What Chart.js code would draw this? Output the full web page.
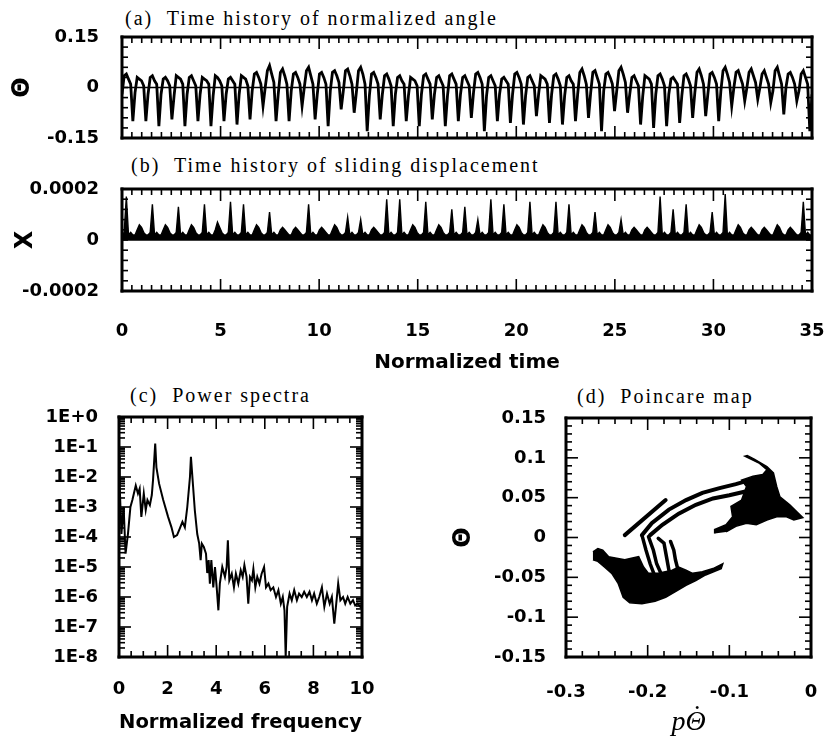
<!DOCTYPE html>
<html><head><meta charset="utf-8">
<script src="https://cdn.jsdelivr.net/npm/chart.js@4.4.1/dist/chart.umd.min.js"></script>
<style>
html,body{margin:0;padding:0;background:#fff;}
#wrap{position:relative;width:828px;height:743px;background:#fff;}
canvas{position:absolute;}
.ptitle{position:absolute;font-family:"Liberation Serif","Times New Roman",serif;font-size:20px;line-height:20px;letter-spacing:2px;white-space:pre;color:#000;}
</style></head><body>
<div id="wrap">
<div class="ptitle" style="left:125px;top:8px">(a)  Time history of normalized angle</div>
<div class="ptitle" style="left:131px;top:155px">(b)  Time history of sliding displacement</div>
<div class="ptitle" style="left:130px;top:385px">(c)  Power spectra</div>
<div class="ptitle" style="left:577px;top:386px">(d)  Poincare map</div>
<canvas id="cA" width="828" height="131" style="left:0;top:22px;width:828px;height:131px"></canvas>
<canvas id="cB" width="828" height="207" style="left:0;top:174px;width:828px;height:207px"></canvas>
<canvas id="cC" width="377" height="335" style="left:0;top:402px;width:377px;height:335px"></canvas>
<canvas id="cD" width="408" height="336" style="left:420px;top:403px;width:408px;height:336px"></canvas>
</div>
<script>
// ---------- DATA ----------
const T_END = 35;
const T_SAMPLES = 318;            // uniform sampling of the time histories
const timeTicks = [0, 5, 10, 15, 20, 25, 30, 35];
const thetaTicks = [-0.15, 0, 0.15];
const slideTicks = [-0.0002, 0, 0.0002];

// (a) normalized angle, one row per oscillation cycle
const theta = [
-0.02,0.035,0.04,0.025,0.01,-0.10,
-0.015,0.03,0.025,0.02,0.005,-0.10,
-0.02,0.03,0.035,0.02,0.01,-0.115,
-0.02,0.025,0.03,0.02,0.005,-0.095,
-0.025,0.035,0.03,0.025,0.01,-0.115,
-0.02,0.03,0.035,0.02,0.005,-0.10,
-0.02,0.03,0.025,0.02,0.01,-0.115,
-0.025,0.035,0.03,0.02,0.005,-0.10,
-0.02,0.025,0.03,0.02,0.01,-0.11,
-0.02,0.035,0.03,0.025,0.005,-0.095,
-0.01,0.04,0.045,0.03,0.01,-0.055,
0.0,0.05,0.065,0.04,0.015,-0.10,
-0.02,0.045,0.055,0.035,0.01,-0.10,
-0.01,0.04,0.045,0.03,0.01,-0.055,
0.0,0.05,0.06,0.035,0.01,-0.095,
-0.02,0.04,0.045,0.03,0.01,-0.115,
-0.01,0.045,0.05,0.035,0.015,-0.065,
-0.01,0.05,0.055,0.035,0.01,-0.075,
-0.015,0.05,0.06,0.04,0.01,-0.13,
-0.025,0.04,0.045,0.03,0.01,-0.095,
-0.02,0.035,0.04,0.025,0.005,-0.115,
-0.02,0.03,0.035,0.02,0.01,-0.10,
-0.025,0.03,0.025,0.02,0.005,-0.115,
-0.02,0.035,0.04,0.025,0.01,-0.095,
-0.02,0.03,0.035,0.02,0.005,-0.115,
-0.025,0.035,0.04,0.025,0.01,-0.10,
-0.02,0.03,0.035,0.02,0.005,-0.09,
-0.015,0.04,0.045,0.03,0.01,-0.13,
-0.025,0.03,0.035,0.02,0.005,-0.10,
-0.02,0.025,0.03,0.02,0.01,-0.105,
-0.02,0.04,0.045,0.03,0.01,-0.11,
-0.025,0.03,0.035,0.02,0.005,-0.085,
-0.02,0.035,0.03,0.025,0.01,-0.105,
-0.02,0.035,0.04,0.025,0.005,-0.11,
-0.025,0.03,0.035,0.02,0.01,-0.10,
-0.02,0.045,0.055,0.035,0.01,-0.09,
-0.015,0.045,0.05,0.03,0.01,-0.13,
-0.01,0.04,0.045,0.03,0.01,-0.07,
-0.01,0.05,0.06,0.04,0.015,-0.075,
-0.02,0.03,0.035,0.02,0.005,-0.11,
-0.025,0.035,0.03,0.025,0.01,-0.12,
-0.02,0.035,0.04,0.025,0.005,-0.115,
-0.02,0.025,0.03,0.02,0.01,-0.105,
-0.025,0.035,0.04,0.025,0.005,-0.09,
-0.015,0.045,0.055,0.035,0.01,-0.085,
-0.02,0.04,0.045,0.03,0.01,-0.10,
-0.01,0.05,0.06,0.04,0.015,-0.055,
0.0,0.045,0.05,0.03,0.01,-0.04,
0.0,0.045,0.055,0.035,0.015,-0.035,
0.0,0.04,0.05,0.03,0.01,-0.045,
-0.01,0.05,0.06,0.035,0.01,-0.08,
0.0,0.04,0.045,0.03,0.01,-0.04,
-0.01,0.04,0.05,0.03,0.01,-0.13,
-0.02
];

// (b) sliding displacement in units of 1e-5, one row per cycle
const slide = [
2,3,17,2,3,2,
2,4,6,5,3,2,
2,3,14,2,3,2,
2,4,6,5,3,2,
2,3,13,2,3,2,
2,4,6,5,3,2,
2,3,14,2,3,2,
2,4,7,5,3,2,
2,3,15,2,3,2,
2,3,14,2,3,2,
2,4,6,5,3,2,
2,3,11,2,3,2,
2,4,5,4,3,2,
2,4,5,4,3,2,
2,3,14,2,3,2,
2,4,5,4,3,2,
2,4,6,5,3,2,
2,3,9,2,3,2,
2,3,8,2,3,2,
2,4,5,4,3,2,
2,3,16,2,3,2,
2,3,16,2,3,2,
2,4,6,5,3,2,
2,3,15,2,3,2,
2,4,6,5,3,2,
2,3,12,2,3,2,
2,3,13,2,3,2,
2,3,8,2,3,2,
2,3,16,2,3,2,
2,3,14,2,3,2,
2,4,6,5,3,2,
2,3,15,2,3,2,
2,4,6,5,3,2,
2,3,15,2,3,2,
2,3,14,2,3,2,
2,4,6,5,3,2,
2,3,11,2,3,2,
2,4,6,5,3,2,
2,3,8,2,3,2,
2,4,5,4,3,2,
2,4,5,4,3,2,
2,3,17,2,3,2,
2,3,12,2,3,2,
2,3,14,2,3,2,
2,4,6,5,3,2,
2,3,11,2,3,2,
2,3,18,2,3,2,
2,4,6,5,3,2,
2,4,5,4,3,2,
2,4,5,4,3,2,
2,4,6,5,3,2,
2,4,5,4,3,2,
2,3,15,2,3,2,
2
];
const SLIDE_UNIT = 1e-5;

// (c) power spectrum
const freqTicks = [0, 2, 4, 6, 8, 10];
const freq = [0.01,0.03,0.1,0.19,0.27,0.37,0.47,0.55,0.69,0.78,0.85,0.92,1.02,1.1,1.17,1.27,1.35,1.4,1.49,1.54,
1.65,1.82,2.02,2.16,2.26,2.39,2.5,2.61,2.71,2.81,2.92,2.96,3.03,3.12,3.22,3.3,3.36,3.41,3.49,3.58,
3.63,3.69,3.74,3.8,3.88,3.95,4.02,4.09,4.15,4.25,4.36,4.43,4.48,4.54,4.64,4.73,4.81,4.91,5.01,5.09,
5.16,5.25,5.32,5.39,5.47,5.53,5.61,5.69,5.78,5.87,5.97,6.05,6.15,6.24,6.35,6.46,6.56,6.66,6.74,6.81,
6.86,6.92,7.02,7.11,7.21,7.32,7.41,7.52,7.62,7.73,7.84,7.94,8.03,8.14,8.24,8.35,8.45,8.56,8.67,8.76,
8.86,8.94,9.02,9.11,9.22,9.31,9.41,9.52,9.63,9.72,9.82,9.93,10.0];
const power = [5e-2,4.7e-3,1.26e-4,1e-3,2.8e-5,1.3e-4,1e-3,1.7e-3,5.2e-3,2.8e-3,4.1e-3,4.7e-4,2.8e-3,7.9e-4,1.7e-3,1.15e-3,2.5e-3,7.9e-3,1.3e-1,2.1e-2,
6.0e-3,1.7e-3,4.7e-4,2.1e-4,1e-4,1.15e-4,1.9e-4,3.2e-4,2.1e-4,1e-3,1e-2,4.7e-2,7.8e-3,7.8e-4,1.26e-4,6.0e-5,1.7e-5,6.0e-5,4.7e-5,2.8e-5,
6.3e-6,1.7e-5,2.8e-6,1.7e-5,2.1e-6,1e-5,2.1e-6,3.6e-7,2.8e-6,1e-5,4.7e-6,1e-5,7.8e-5,3.6e-6,6.0e-6,2.1e-6,6.0e-6,2.8e-6,7.8e-6,4.7e-6,
1.15e-5,4.7e-6,6.0e-7,4.7e-6,3.6e-6,8.7e-6,2.1e-6,4.7e-6,2.8e-6,6.0e-6,1e-5,2.1e-6,2.8e-6,1.7e-6,2.1e-6,1e-6,1.7e-6,6.0e-7,1e-6,3.6e-7,
1e-8,4.7e-7,1.3e-6,7.8e-7,1.7e-6,7.8e-7,1.3e-6,1e-6,1.5e-6,1e-6,1.5e-6,7.8e-7,1.3e-6,6.0e-7,1e-6,2.1e-6,4.7e-7,1.3e-6,6.0e-7,1e-6,
1.3e-7,6.0e-7,2.8e-6,7.8e-7,1e-6,6.0e-7,1e-6,6.0e-7,7.8e-7,5.2e-7,6.0e-7,4.7e-7,6.0e-7];
const powerTicks = [1e-8,1e-7,1e-6,1e-5,1e-4,1e-3,1e-2,1e-1,1];

// (d) Poincare map: [p-theta-dot, theta] outlines of the point clouds and strands
const pmUpperCloud = [[-0.118,0.005],[-0.118,0.010],[-0.104,0.016],[-0.096,0.026],[-0.098,0.039],[-0.085,0.047],
[-0.079,0.064],[-0.085,0.072],[-0.071,0.077],[-0.059,0.079],[-0.054,0.085],[-0.063,0.093],[-0.081,0.102],
[-0.078,0.103],[-0.069,0.098],[-0.054,0.089],[-0.046,0.081],[-0.042,0.064],[-0.038,0.051],[-0.026,0.041],
[-0.017,0.032],[-0.010,0.025],[-0.021,0.022],[-0.030,0.026],[-0.042,0.026],[-0.054,0.022],[-0.067,0.016],
[-0.079,0.018],[-0.092,0.014],[-0.104,0.007]];
const pmLowerCloud = [[-0.267,-0.018],[-0.261,-0.014],[-0.255,-0.016],[-0.248,-0.024],[-0.238,-0.026],[-0.228,-0.028],
[-0.220,-0.026],[-0.211,-0.024],[-0.205,-0.037],[-0.199,-0.045],[-0.187,-0.045],[-0.170,-0.041],[-0.162,-0.037],
[-0.153,-0.041],[-0.145,-0.045],[-0.133,-0.043],[-0.120,-0.039],[-0.108,-0.033],[-0.110,-0.039],[-0.129,-0.047],
[-0.141,-0.054],[-0.153,-0.060],[-0.166,-0.068],[-0.178,-0.075],[-0.191,-0.080],[-0.207,-0.083],[-0.222,-0.082],
[-0.230,-0.075],[-0.236,-0.058],[-0.244,-0.045],[-0.253,-0.037],[-0.261,-0.030],[-0.267,-0.028]];
const pmOuterArc = [[-0.207,0.003],[-0.195,0.018],[-0.174,0.035],[-0.153,0.047],[-0.133,0.056],[-0.112,0.062],[-0.092,0.067],[-0.075,0.072],[-0.059,0.074]];
const pmInnerArc = [[-0.197,0.003],[-0.182,0.016],[-0.162,0.030],[-0.141,0.041],[-0.120,0.049],[-0.100,0.053],[-0.079,0.058],[-0.063,0.062]];
const pmDiagonal = [[-0.228,0.003],[-0.178,0.047]];
const pmStrandA = [[-0.207,0.003],[-0.202,-0.016],[-0.197,-0.033],[-0.191,-0.049]];
const pmStrandB = [[-0.199,0.001],[-0.193,-0.016],[-0.189,-0.033],[-0.182,-0.049]];
const pmStrandC = [[-0.187,-0.001],[-0.180,-0.007],[-0.177,-0.024],[-0.174,-0.041]];
const pmStrandD = [[-0.172,-0.005],[-0.168,-0.016],[-0.166,-0.028],[-0.163,-0.040]];

// ---------- HELPERS ----------
const SANS = '"DejaVu Sans", "Liberation Sans", Arial, sans-serif';
const tickFont = {family: SANS, size: 18, weight: 'bold'};
const axisFont = {family: SANS, size: 20, weight: 'bold'};
const symFont = {family: SANS, size: 24, weight: 'bold'};
Chart.defaults.color = '#000';
const T_STEP = T_END / T_SAMPLES;
const toXY = pairs => pairs.map(p => ({x: p[0], y: p[1]}));
const MAJOR_LEN = 12, MINOR_LEN = 6, TICK_W = 1.6, FRAME_W = 3;

// positions of the inward frame tick marks: [value, isMajor]
const linTicks = (start, step, count, majorEvery) => {
  const r = [];
  for (let i = 0; i <= count; i++) r.push([start + i * step, majorEvery > 0 && i % majorEvery === 0]);
  return r;
};
const logTicks = (eMin, eMax) => {
  const r = [];
  for (let e = eMin; e < eMax; e++) for (let k = 1; k < 10; k++) r.push([k * Math.pow(10, e), k === 1]);
  r.push([Math.pow(10, eMax), true]);
  return r;
};

// thick frame with inward tick marks on all four sides, positioned along each axis range
function makeFrame(xT, yT, xMin, xMax, yMin, yMax, yLog) {
  return {
    id: 'frameTicks',
    afterDraw(chart) {
      const ctx = chart.ctx, a = chart.chartArea;
      const W = a.right - a.left, H = a.bottom - a.top;
      const fx = v => (v - xMin) / (xMax - xMin);
      const fy = v => yLog ? (Math.log10(v) - Math.log10(yMin)) / (Math.log10(yMax) - Math.log10(yMin)) : (v - yMin) / (yMax - yMin);
      ctx.save();
      ctx.fillStyle = '#000';
      xT.forEach(t => {
        const len = t[1] ? MAJOR_LEN : MINOR_LEN;
        const p = a.left + fx(t[0]) * W;
        ctx.fillRect(p - TICK_W / 2, a.top, TICK_W, len);
        ctx.fillRect(p - TICK_W / 2, a.bottom - len, TICK_W, len);
      });
      yT.forEach(t => {
        const len = t[1] ? MAJOR_LEN : MINOR_LEN;
        const p = a.bottom - fy(t[0]) * H;
        ctx.fillRect(a.left, p - TICK_W / 2, len, TICK_W);
        ctx.fillRect(a.right - len, p - TICK_W / 2, len, TICK_W);
      });
      const b = FRAME_W;
      ctx.fillRect(a.left - b / 2, a.top - b / 2, W + b, b);
      ctx.fillRect(a.left - b / 2, a.bottom - b / 2, W + b, b);
      ctx.fillRect(a.left - b / 2, a.top - b / 2, b, H + b);
      ctx.fillRect(a.right - b / 2, a.top - b / 2, b, H + b);
      ctx.restore();
    }
  };
}

const base = {responsive: false, animation: false, devicePixelRatio: 1, events: []};
// invisible tick marks are used as the gap between the frame and the tick labels
const gap = len => ({display: true, drawOnChartArea: false, drawTicks: true, tickLength: len, color: 'rgba(0,0,0,0)'});
const fixedTicks = list => (s => { s.ticks = list.map(v => ({value: v})); });

// ---------- (a) ----------
new Chart(document.getElementById('cA'), {
  type: 'line',
  data: {datasets: [
    {data: theta.map((v, i) => ({x: i * T_STEP, y: v})), borderColor: '#000', borderWidth: 2.8, pointRadius: 0},
    {data: [{x: 0, y: 0}, {x: T_END, y: 0}], borderColor: '#000', borderWidth: 1.6, pointRadius: 0}
  ]},
  options: Object.assign({}, base, {
    layout: {padding: {top: 15, bottom: 15, right: 16, left: 0}},
    plugins: {legend: {display: false}, tooltip: {enabled: false}},
    scales: {
      x: {type: 'linear', min: 0, max: T_END, display: false},
      y: {type: 'linear', min: -0.15, max: 0.15, afterFit(s) { s.width = 122; }, afterBuildTicks: fixedTicks(thetaTicks),
          ticks: {padding: 0, font: tickFont, color: '#000', callback: v => String(v)},
          grid: gap(23), border: {display: false},
          title: {display: true, text: 'Θ', font: symFont, color: '#000', padding: {top: 8, bottom: 0}}}
    }
  }),
  plugins: [makeFrame(linTicks(0, 0.5, 70, 10), linTicks(-0.15, 0.03, 10, 0), 0, T_END, -0.15, 0.15, false)]
});

// ---------- (b) ----------
new Chart(document.getElementById('cB'), {
  type: 'line',
  data: {datasets: [
    {data: slide.map((v, i) => ({x: i * T_STEP, y: v * SLIDE_UNIT})), borderColor: '#000', backgroundColor: '#000', fill: 'origin', borderWidth: 1.4, pointRadius: 0},
    {data: [{x: 0, y: 0}, {x: T_END, y: 0}], borderColor: '#000', borderWidth: 1.6, pointRadius: 0}
  ]},
  options: Object.assign({}, base, {
    layout: {padding: {top: 15, bottom: 0, right: 16, left: 0}},
    plugins: {legend: {display: false}, tooltip: {enabled: false}},
    scales: {
      x: {type: 'linear', min: 0, max: T_END, afterFit(s) { s.height = 90; }, afterBuildTicks: fixedTicks(timeTicks),
          ticks: {padding: 0, font: tickFont, color: '#000', maxRotation: 0, autoSkip: false},
          grid: gap(30), border: {display: false},
          title: {display: true, text: 'Normalized time', font: axisFont, color: '#000', padding: {top: 0, bottom: 6}}},
      y: {type: 'linear', min: -0.0002, max: 0.0002, afterFit(s) { s.width = 122; }, afterBuildTicks: fixedTicks(slideTicks),
          ticks: {padding: 0, font: tickFont, color: '#000', callback: v => v === 0 ? '0' : v.toFixed(4)},
          grid: gap(23), border: {display: false},
          title: {display: true, text: 'X', font: symFont, color: '#000', padding: {top: 11, bottom: 0}}}
    }
  }),
  plugins: [makeFrame(linTicks(0, 0.5, 70, 10), linTicks(-0.0002, 0.00004, 10, 0), 0, T_END, -0.0002, 0.0002, false)]
});

// ---------- (c) ----------
new Chart(document.getElementById('cC'), {
  type: 'line',
  data: {datasets: [
    {data: freq.map((f, i) => ({x: f, y: power[i]})), borderColor: '#000', borderWidth: 2, pointRadius: 0}
  ]},
  options: Object.assign({}, base, {
    layout: {padding: {top: 15, bottom: 0, right: 15, left: 0}},
    plugins: {legend: {display: false}, tooltip: {enabled: false}},
    scales: {
      x: {type: 'linear', min: 0, max: 10, afterFit(s) { s.height = 80; }, afterBuildTicks: fixedTicks(freqTicks),
          ticks: {padding: 0, font: tickFont, color: '#000', maxRotation: 0, autoSkip: false},
          grid: gap(22), border: {display: false},
          title: {display: true, text: 'Normalized frequency', font: axisFont, color: '#000', padding: {top: 0, bottom: 2}}},
      y: {type: 'logarithmic', min: 1e-8, max: 1, afterFit(s) { s.width = 119; }, afterBuildTicks: fixedTicks(powerTicks),
          ticks: {padding: 0, font: tickFont, color: '#000', autoSkip: false,
            callback: v => { const e = Math.round(Math.log10(v)); return '1E' + (e >= 0 ? '+' : '-') + Math.abs(e); }},
          grid: gap(21), border: {display: false}}
    }
  }),
  plugins: [makeFrame(linTicks(0, 0.5, 20, 4), logTicks(-8, 0), 0, 10, 1e-8, 1, true)]
});

// ---------- (d) ----------
const blob = pts => ({data: toXY(pts), borderColor: '#000', backgroundColor: '#000', borderWidth: 1.5, pointRadius: 0, fill: 'shape'});
const strand = (pts, w) => ({data: toXY(pts), borderColor: '#000', borderWidth: w, pointRadius: 0, fill: false, borderCapStyle: 'round'});
new Chart(document.getElementById('cD'), {
  type: 'line',
  data: {datasets: [
    blob(pmUpperCloud), blob(pmLowerCloud),
    strand(pmOuterArc, 4), strand(pmInnerArc, 4), strand(pmDiagonal, 4),
    strand(pmStrandA, 3.5), strand(pmStrandB, 3.5), strand(pmStrandC, 3.5), strand(pmStrandD, 3.5)
  ]},
  options: Object.assign({}, base, {
    layout: {padding: {top: 15, bottom: 0, right: 17, left: 0}},
    plugins: {legend: {display: false}, tooltip: {enabled: false}},
    scales: {
      x: {type: 'linear', min: -0.3, max: 0, afterFit(s) { s.height = 82; }, afterBuildTicks: fixedTicks([-0.3, -0.2, -0.1, 0]),
          ticks: {padding: 0, font: tickFont, color: '#000', maxRotation: 0, autoSkip: false, callback: v => String(Math.round(v * 100) / 100)},
          grid: gap(25), border: {display: false},
          title: {display: true, text: ['\u2002\u02D9', 'pΘ'], font: {family: '"Liberation Serif", "Times New Roman", serif', size: 28, style: 'italic', lineHeight: 0.2}, color: '#000', padding: {top: 0, bottom: 14}}},
      y: {type: 'linear', min: -0.15, max: 0.15, afterFit(s) { s.width = 146; }, afterBuildTicks: fixedTicks([-0.15, -0.1, -0.05, 0, 0.05, 0.1, 0.15]),
          ticks: {padding: 0, font: tickFont, color: '#000', autoSkip: false, callback: v => String(Math.round(v * 100) / 100)},
          grid: gap(20), border: {display: false},
          title: {display: true, text: 'Θ', font: symFont, color: '#000', padding: {top: 29, bottom: 0}}}
    }
  }),
  plugins: [makeFrame(linTicks(-0.3, 0.02, 15, 5), linTicks(-0.15, 0.01, 30, 5), -0.3, 0, -0.15, 0.15, false)]
});
</script>
</body></html>
